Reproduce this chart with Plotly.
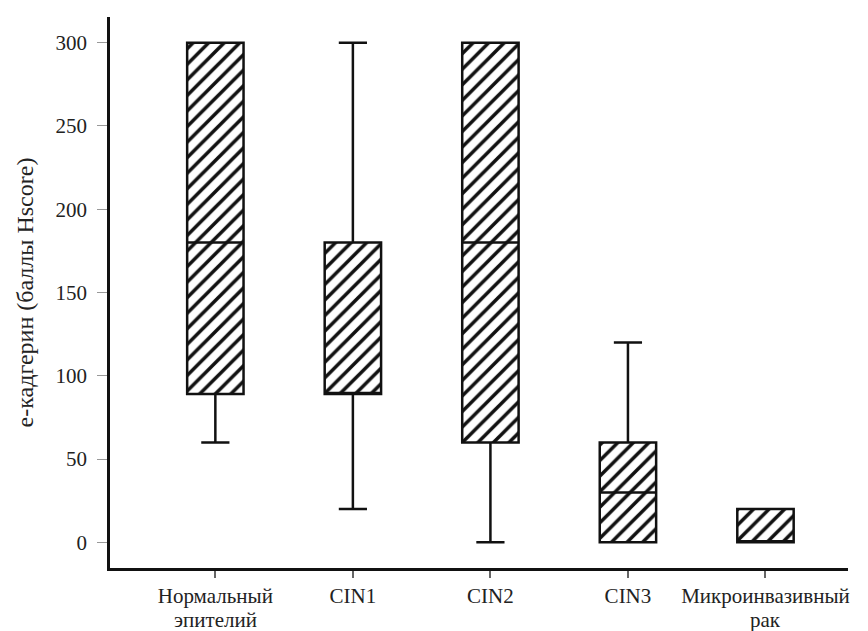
import plotly.graph_objects as go

categories = ["Нормальный эпителий", "CIN1", "CIN2", "CIN3", "Микроинвазивный рак"]
label_line1 = ["Нормальный", "CIN1", "CIN2", "CIN3", "Микроинвазивный"]
label_line2 = ["эпителий", "", "", "", "рак"]
lower_whisker = [60, 20, 0, 0, 0]
q1_values = [89, 89, 60, 0, 0]
median_values = [180, 89, 180, 30, 0]
q3_values = [300, 180, 300, 60, 20]
upper_whisker = [300, 300, 300, 120, 20]
y_ticks = [0, 50, 100, 150, 200, 250, 300]

box_width = 0.41
font_family = "'Times New Roman', 'Liberation Serif', 'DejaVu Serif', serif"
text_color = "#222222"

fig = go.Figure()

# hatched fill of each box (interquartile range)
fig.add_trace(go.Bar(
    x=categories,
    y=[h - l for h, l in zip(q3_values, q1_values)],
    base=q1_values,
    width=box_width,
    marker=dict(
        color="white",
        line=dict(width=0),
        pattern=dict(shape="/", fgcolor="#111111", bgcolor="white",
                     size=11, solidity=0.32, fillmode="replace"),
    ),
    showlegend=False,
    hoverinfo="skip",
))

# box outlines, medians and whiskers
fig.add_trace(go.Box(
    x=categories,
    q1=q1_values,
    median=median_values,
    q3=q3_values,
    lowerfence=lower_whisker,
    upperfence=upper_whisker,
    width=box_width,
    whiskerwidth=0.5,
    fillcolor="rgba(0,0,0,0)",
    line=dict(color="#111111", width=2.5),
    boxpoints=False,
    showlegend=False,
))

# second lines of the two-line category labels (tighter line spacing)
for cat, line2 in zip(categories, label_line2):
    if line2:
        fig.add_annotation(
            x=cat, xref="x", y=0, yref="paper",
            text=line2, showarrow=False,
            yanchor="middle", yshift=-52,
            font=dict(family=font_family, size=21, color=text_color),
        )

fig.update_layout(
    width=860,
    height=623,
    margin=dict(l=102, r=20, t=9, b=63),
    paper_bgcolor="white",
    plot_bgcolor="white",
    font=dict(family=font_family, size=21, color=text_color),
    bargap=0,
)

fig.update_xaxes(
    type="category",
    range=[-0.766, 4.60],
    tickvals=categories,
    ticktext=label_line1,
    automargin=False,
    showline=True,
    linecolor="#111111",
    linewidth=2.5,
    showgrid=False,
    zeroline=False,
    ticks="outside",
    ticklen=7,
    tickwidth=1.5,
    tickcolor="#666666",
    ticklabelstandoff=0,
    tickfont=dict(family=font_family, size=21, color=text_color),
)

fig.update_yaxes(
    range=[-15.4, 315.4],
    tickvals=y_ticks,
    automargin=False,
    showline=True,
    linecolor="#111111",
    linewidth=2.5,
    showgrid=False,
    zeroline=False,
    ticks="outside",
    ticklen=10,
    tickwidth=1,
    tickcolor="#999999",
    ticklabelstandoff=6,
    tickfont=dict(family=font_family, size=21, color=text_color),
    title=dict(text="е-кадгерин (баллы Hscore)",
               font=dict(family=font_family, size=24, color=text_color),
               standoff=16),
)

fig.write_html("out.html")
